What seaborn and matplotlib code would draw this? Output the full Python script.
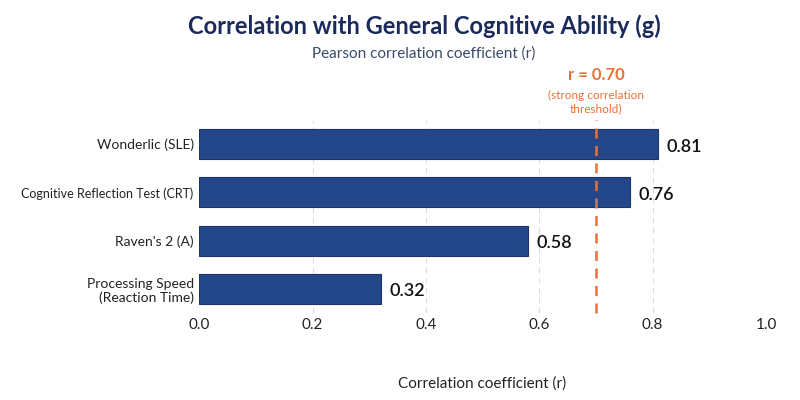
import matplotlib
matplotlib.use("Agg")
import matplotlib.pyplot as plt
import seaborn as sns
import pandas as pd

tests = ["Wonderlic (SLE)", "Cognitive Reflection Test (CRT)", "Raven's 2 (A)", "Processing Speed\n(Reaction Time)"]
values = [0.81, 0.76, 0.58, 0.32]
threshold = 0.70
xticks = [0.0, 0.2, 0.4, 0.6, 0.8, 1.0]

sns.set_theme(style="white")
plt.rcParams['font.family'] = ['Lato', 'DejaVu Sans']

df = pd.DataFrame({"test": tests, "r": values})
fig = plt.figure(figsize=(8, 4), dpi=100)
ax = fig.add_axes([0.249, 0.2175, 0.7085, 0.4825])
sns.barplot(data=df, x="r", y="test", ax=ax, color="#24478a", width=0.62,
            edgecolor="#1a3566", linewidth=0.8, saturation=1)
ax.set_xlim(0, 1.0)
ax.set_xticks(xticks)
ax.set_xticklabels([f"{t:.1f}" for t in xticks], fontsize=11, color="#222")
ax.tick_params(axis='y', labelsize=10, length=0, labelcolor="#222", pad=4)
for lbl in ax.get_yticklabels():
    if "CRT" in lbl.get_text():
        lbl.set_fontsize(9)
ax.tick_params(axis='x', length=0)
for t in xticks[1:]:
    ax.axvline(t, color="#dddddd", linestyle=(0, (5, 4)), linewidth=0.8, zorder=0)
for s in ax.spines.values():
    s.set_visible(False)
ax.set_ylabel("")
ax.set_xlabel("Correlation coefficient (r)", fontsize=11, color="#222", labelpad=32)
for i, v in enumerate(values):
    ax.text(v + 0.015, i + 0.05, f"{v:.2f}", va="center", ha="left", fontsize=13,
            color="#111", fontweight="semibold")
ax.axvline(threshold, color="#e8703a", linestyle=(0, (4, 3)), linewidth=1.8, clip_on=False)
ax.text(threshold, 1.19, f"r = {threshold:.2f}", transform=ax.get_xaxis_transform(),
        ha="center", va="bottom", fontsize=12, color="#e8703a", fontweight="bold")
ax.text(threshold, 1.03, "(strong correlation\nthreshold)", transform=ax.get_xaxis_transform(),
        ha="center", va="bottom", fontsize=8.5, color="#e8703a")
fig.text(0.53, 0.935, "Correlation with General Cognitive Ability (g)", ha="center", va="center",
         fontsize=17, fontweight="bold", color="#1b2a5c")
fig.text(0.53, 0.865, "Pearson correlation coefficient (r)", ha="center", va="center",
         fontsize=11, color="#3a4a6b")
fig.savefig("out.png", dpi=100, facecolor="white")
